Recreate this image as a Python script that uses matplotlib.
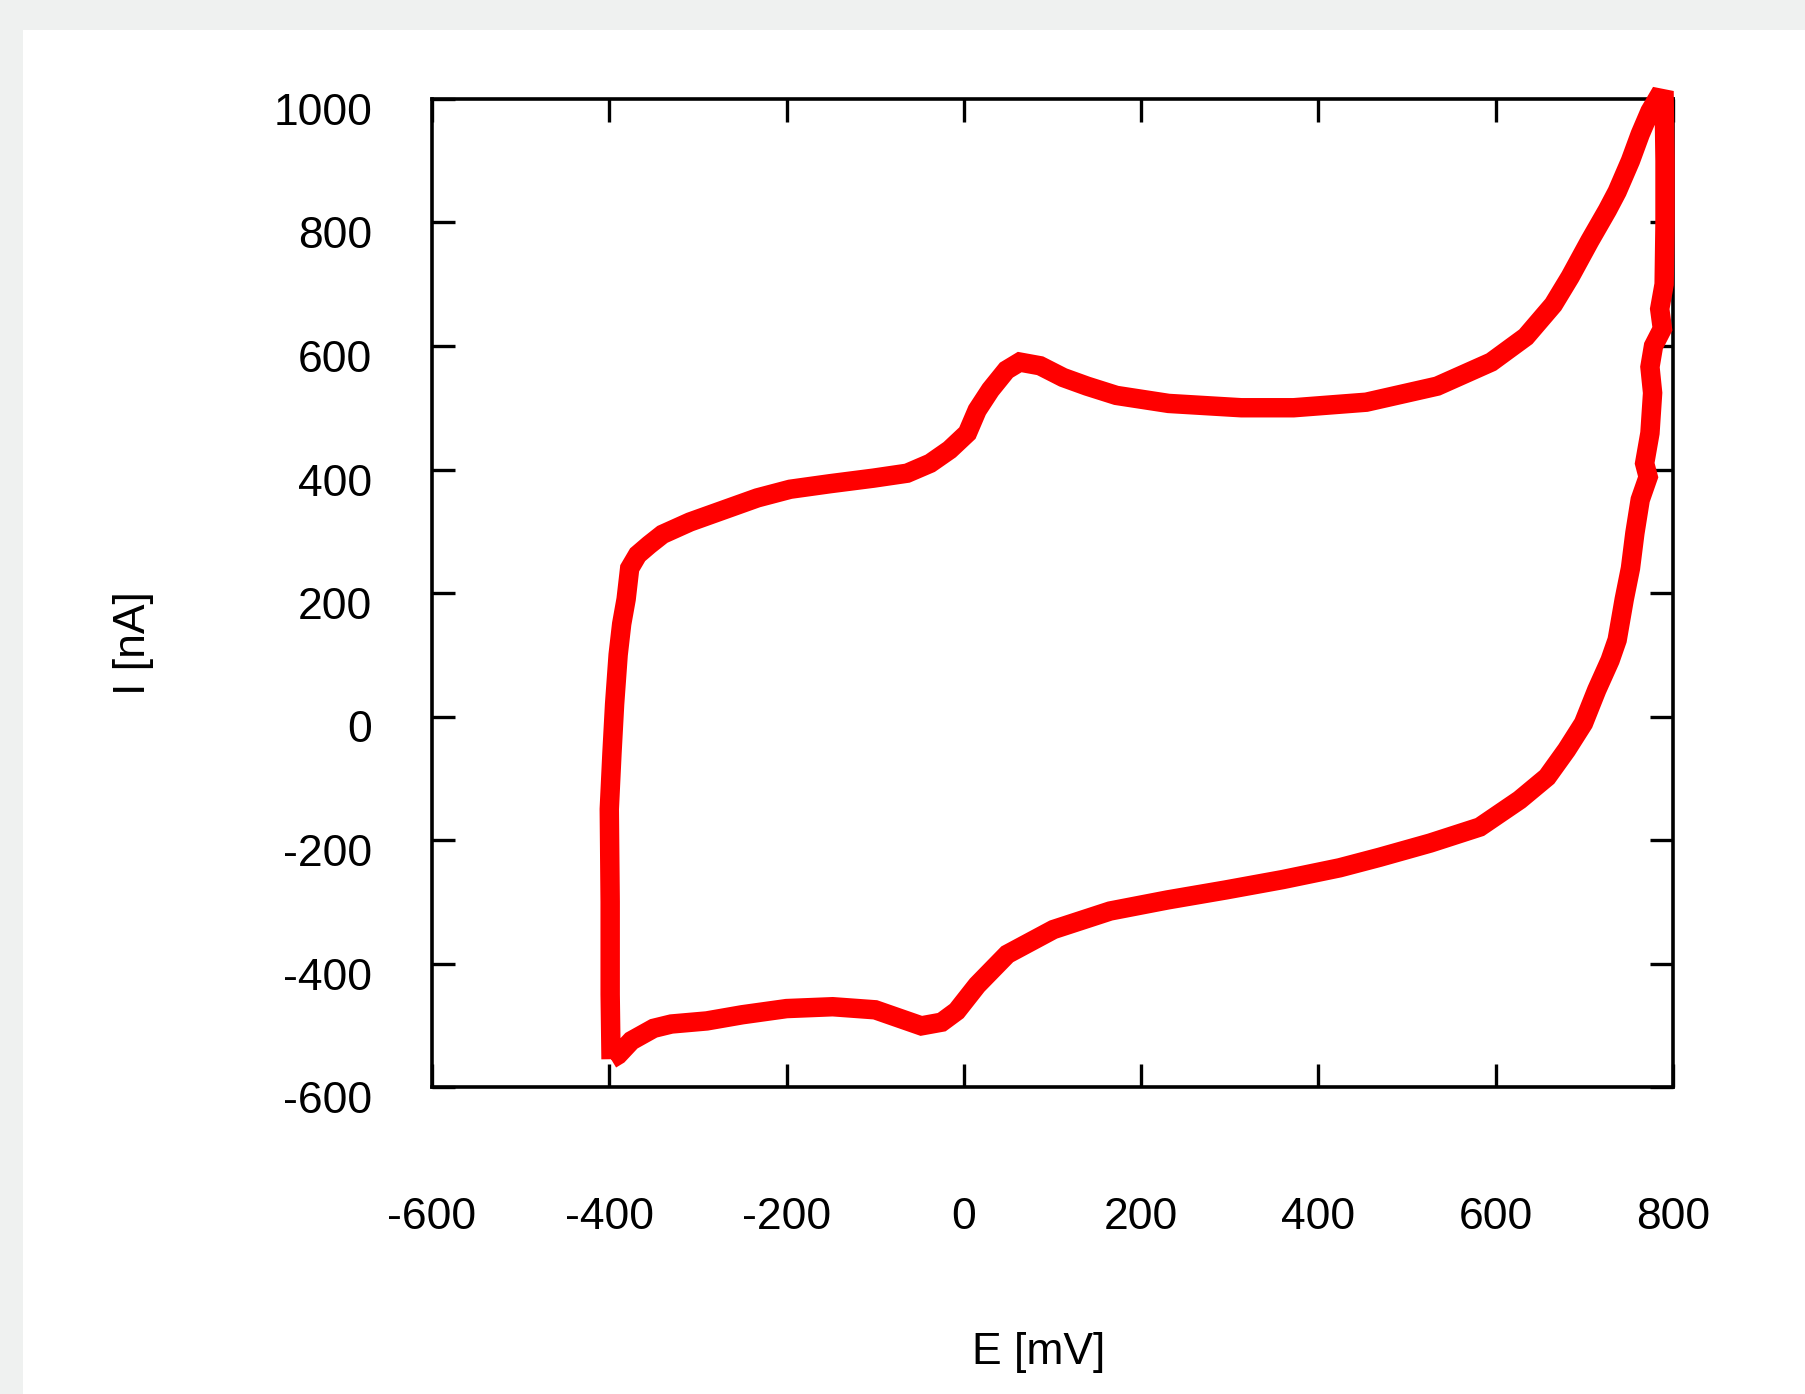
import matplotlib
matplotlib.use('Agg')
import matplotlib.pyplot as plt
from matplotlib.patches import Rectangle
from matplotlib.transforms import ScaledTranslation

plt.rcParams['axes.unicode_minus'] = False

# ── DATA (cyclic voltammogram) ───────────────────────────────
E_mV = [
    -398, -399, -399, -400, -397, -394, -390, -386, -381, -377,
    -368, -355, -340, -309, -272, -233, -196, -151, -102, -64,
    -38, -16, 4, 15, 30, 48, 63, 86, 112, 139,
    172, 231, 313, 372, 454, 534, 595, 634, 665, 684,
    706, 726, 737, 752, 763, 774, 783, 790, 791, 791,
    790, 785, 788, 778, 774, 777, 774, 768, 772, 763,
    757, 752, 745, 737, 729, 714, 699, 680, 658, 627,
    582, 526, 469, 424, 360, 295, 230, 165, 101, 49,
    15, -8, -25, -48, -70, -100, -148, -200, -250, -290,
    -330, -350, -375, -390, -398,
]
I_nA = [
    -555, -450, -300, -150, -60, 20, 100, 150, 190, 240,
    262, 278, 295, 315, 334, 354, 368, 377, 386, 394,
    410, 432, 459, 496, 529, 561, 574, 568, 549, 535,
    520, 507, 500, 500, 509, 535, 574, 615, 667, 712,
    770, 820, 850, 900, 943, 980, 1002, 1000, 900, 800,
    700, 660, 628, 600, 566, 524, 459, 410, 388, 351,
    297, 240, 190, 124, 91, 43, -11, -54, -98, -135,
    -179, -205, -228, -245, -264, -281, -297, -315, -345, -385,
    -435, -477, -495, -501, -490, -475, -470, -473, -483, -493,
    -498, -505, -525, -548, -555,
]
X_TICKS = [-600, -400, -200, 0, 200, 400, 600, 800]
Y_TICKS = [-600, -400, -200, 0, 200, 400, 600, 800, 1000]

# ── STYLE ─────────────────────────────────────────────
W_PX, H_PX = 1806, 1394
DPI = 100
COLOR_BORDER = "#eff1f0"
FONT = "Liberation Sans"

fig = plt.figure(figsize=(W_PX / DPI, H_PX / DPI), dpi=DPI, facecolor=COLOR_BORDER)

# white canvas, grey strip on top and left
fig.add_artist(Rectangle((23 / W_PX, 0), 1 - 23 / W_PX, 1 - 30 / H_PX,
                         transform=fig.transFigure, facecolor='white',
                         edgecolor='none', zorder=0))

ax = fig.add_axes([432 / W_PX, 1 - 1087 / H_PX, 1241 / W_PX, 988 / H_PX])
ax.set_facecolor('white')

ax.plot(E_mV, I_nA, color='#ff0000', linewidth=14,
        solid_joinstyle='miter', solid_capstyle='butt',
        clip_on=False, zorder=3)

ax.set_xlim(-600, 800)
ax.set_ylim(-600, 1000)
ax.set_xticks(X_TICKS)
ax.set_yticks(Y_TICKS)

for sp in ax.spines.values():
    sp.set_linewidth(2.6)
    sp.set_color('black')

ax.tick_params(axis='both', direction='in', length=16.5, width=2.4,
               top=True, right=True, colors='black', labelsize=32)
ax.tick_params(axis='x', pad=79)
ax.tick_params(axis='y', pad=43)

for lab in ax.get_xticklabels() + ax.get_yticklabels():
    lab.set_fontfamily(FONT)

# y labels sit a little below their ticks in the original
shift = ScaledTranslation(0, -10 / DPI, fig.dpi_scale_trans)
for lab in ax.get_yticklabels():
    lab.set_transform(lab.get_transform() + shift)

# axis titles
fig.text(1039 / W_PX, 1 - 1332 / H_PX, "E [mV]", fontsize=32, family=FONT,
         ha='center', va='top')
fig.text(134 / W_PX, 1 - 643 / H_PX, "I [nA]", fontsize=32, family=FONT,
         rotation=90, ha='center', va='center')

fig.savefig("out.png", dpi=DPI, facecolor=COLOR_BORDER)
plt.close(fig)
